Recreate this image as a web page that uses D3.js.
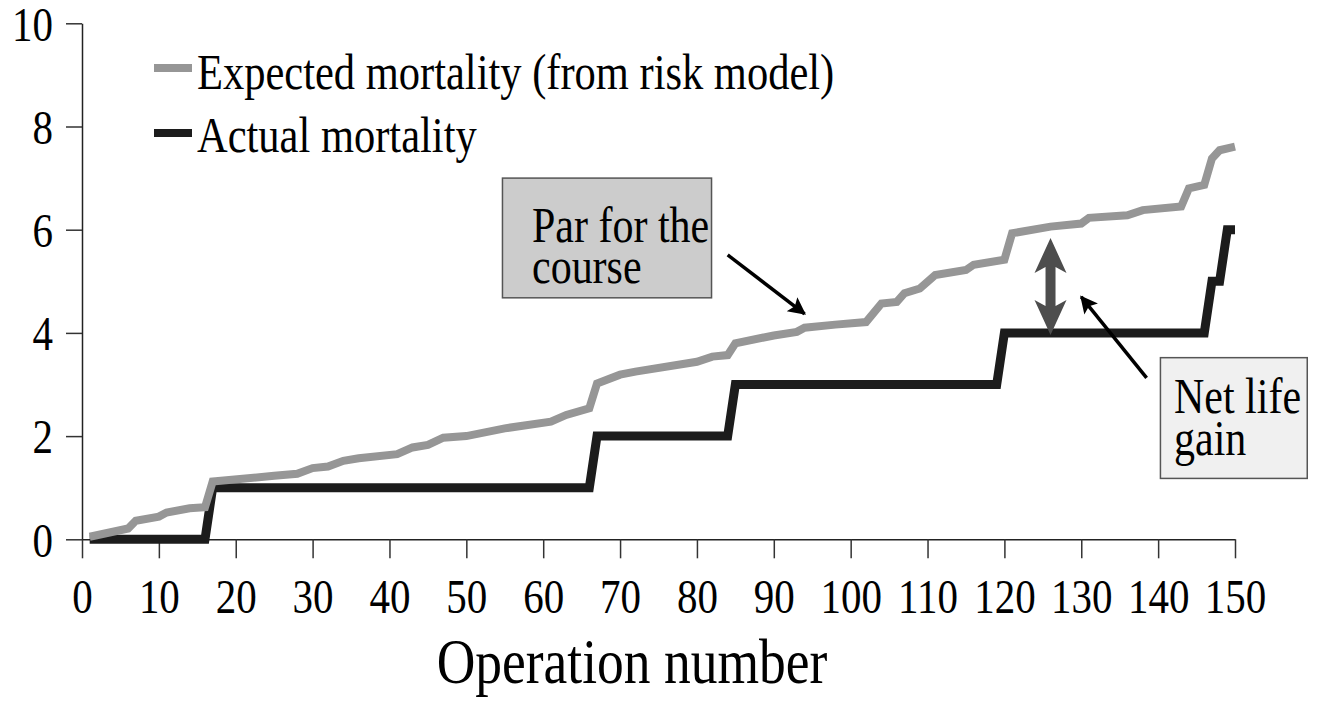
<!DOCTYPE html>
<html>
<head>
<meta charset="utf-8">
<script src="https://cdn.jsdelivr.net/npm/d3@7"></script>
<style>
  body { margin: 0; background: #fff; }
  text { font-family: "Liberation Serif", "Times New Roman", serif; fill: #000; }
</style>
</head>
<body>
<div id="chart"></div>
<script>
// expected mortality (cumulative, from risk model) - vertices
const expectedOps  = [1, 6, 7, 10, 11, 14, 16, 17, 25, 28, 30, 32, 34, 36, 41, 43, 45, 47, 50, 55, 61, 63, 66, 67, 70, 72, 80, 82, 84, 85, 90, 93, 94, 98, 102, 104, 106, 107, 109, 111, 115, 116, 120, 121, 126, 130, 131, 136, 138, 143, 144, 146, 147, 148, 150];
const expectedVals = [0.05, 0.21, 0.36, 0.44, 0.52, 0.60, 0.62, 1.12, 1.23, 1.27, 1.38, 1.41, 1.52, 1.57, 1.65, 1.78, 1.83, 1.97, 2.0, 2.15, 2.28, 2.41, 2.54, 3.02, 3.19, 3.25, 3.44, 3.54, 3.57, 3.80, 3.95, 4.02, 4.10, 4.16, 4.21, 4.57, 4.60, 4.77, 4.86, 5.12, 5.22, 5.32, 5.42, 5.93, 6.06, 6.12, 6.23, 6.28, 6.38, 6.45, 6.80, 6.87, 7.38, 7.54, 7.61];

// actual mortality (cumulative deaths)
const actualOps  = [1, 16, 17, 66, 67, 84, 85, 119, 120, 146, 147, 148, 149, 150];
const actualVals = [0, 0, 1, 1, 2, 2, 3, 3, 4, 4, 5, 5, 6, 6];

const xTickValues = [0, 10, 20, 30, 40, 50, 60, 70, 80, 90, 100, 110, 120, 130, 140, 150];
const yTickValues = [0, 2, 4, 6, 8, 10];

const seriesNames = ["Expected mortality (from risk model)", "Actual mortality"];

const W = 1324, H = 703;
const FONT = 41;
const SY = 1.2; // text in the original is taller than it is wide

const svg = d3.select("#chart").append("svg")
  .attr("width", W)
  .attr("height", H);

svg.append("rect").attr("width", W).attr("height", H).attr("fill", "#fff");

const x = d3.scaleLinear().domain([0, 150]).range([82, 1235]);
const y = d3.scaleLinear().domain([0, 10]).range([539.3, 23.3]);

// helper: put text at baseline (px,py) with vertical stretch
function label(g, px, py, txt, size, anchor = "start") {
  return g.append("text")
    .attr("transform", `translate(${px},${py}) scale(1,${SY})`)
    .attr("text-anchor", anchor)
    .style("font-size", size + "px")
    .text(txt);
}

// Axes
const xAxis = svg.append("g")
  .attr("transform", `translate(0,${y(0)})`)
  .call(d3.axisBottom(x).tickValues(xTickValues).tickSizeInner(19).tickSizeOuter(0));

xAxis.selectAll("text")
  .attr("y", null)
  .attr("dy", null)
  .attr("transform", `translate(0,74) scale(1,${SY})`)
  .style("font-size", FONT + "px")
  .attr("fill", "#000");

const yAxis = svg.append("g")
  .attr("transform", `translate(${x(0)},0)`)
  .call(d3.axisLeft(y).tickValues(yTickValues).tickSizeInner(16).tickSizeOuter(0));

yAxis.selectAll(".tick text")
  .attr("x", null)
  .attr("dy", null)
  .attr("transform", `translate(-29,${0.34 * FONT * SY}) scale(1,${SY})`)
  .style("font-size", FONT + "px")
  .attr("fill", "#000");

svg.selectAll(".domain, .tick line")
  .attr("stroke", "#222")
  .attr("stroke-width", 1.5);
svg.selectAll(".tick line").attr("stroke", "#333");

// Lines
const line = d3.line()
  .x(d => x(d[0]))
  .y(d => y(d[1]));

const expectedData = expectedOps.map((o, i) => [o, expectedVals[i]]);
const actualData = actualOps.map((o, i) => [o, actualVals[i]]);

svg.append("path")
  .datum(actualData)
  .attr("d", line)
  .attr("fill", "none")
  .attr("stroke", "#1c1c1c")
  .attr("stroke-width", 9);

svg.append("path")
  .datum(expectedData)
  .attr("d", line)
  .attr("fill", "none")
  .attr("stroke", "#969696")
  .attr("stroke-width", 8);

// Legend
const legend = svg.append("g");
[["#969696", 68], ["#1c1c1c", 133]].forEach((s, i) => {
  legend.append("line")
    .attr("x1", 154).attr("x2", 192)
    .attr("y1", s[1]).attr("y2", s[1])
    .attr("stroke", s[0])
    .attr("stroke-width", 8);
  label(legend, 197, i === 0 ? 89 : 152, seriesNames[i], 42.5);
});

// x axis title
label(svg, 632, 683, "Operation number", 53.5, "middle");

// arrow markers
const defs = svg.append("defs");
defs.append("marker")
  .attr("id", "arr")
  .attr("viewBox", "0 0 10 10")
  .attr("refX", 9).attr("refY", 5)
  .attr("markerWidth", 6).attr("markerHeight", 5)
  .attr("markerUnits", "strokeWidth")
  .attr("orient", "auto")
  .append("path")
  .attr("d", "M0,0L10,5L0,10L2,5Z")
  .attr("fill", "#000");

// "Par for the course" box
const box1 = svg.append("g");
box1.append("rect")
  .attr("x", x(54.7)).attr("y", y(7.0))
  .attr("width", x(81.9) - x(54.7)).attr("height", y(4.68) - y(7.0))
  .attr("fill", "#cccccc")
  .attr("stroke", "#555")
  .attr("stroke-width", 1.5);
label(box1, 532, 242, "Par for the", 42);
label(box1, 532, 283, "course", 42);

svg.append("line")
  .attr("x1", x(84)).attr("y1", y(5.51))
  .attr("x2", x(94)).attr("y2", y(4.37))
  .attr("stroke", "#000")
  .attr("stroke-width", 3.5)
  .attr("marker-end", "url(#arr)");

// "Net life gain" box
const box2 = svg.append("g");
box2.append("rect")
  .attr("x", x(140.3)).attr("y", y(3.52))
  .attr("width", x(159.4) - x(140.3)).attr("height", y(1.18) - y(3.52))
  .attr("fill", "#f0f0f0")
  .attr("stroke", "#555")
  .attr("stroke-width", 1.5);
label(box2, 1174, 413, "Net life", 42);
label(box2, 1174, 455, "gain", 42);

svg.append("line")
  .attr("x1", x(138.5)).attr("y1", y(3.13))
  .attr("x2", x(130)).attr("y2", y(4.70))
  .attr("stroke", "#000")
  .attr("stroke-width", 3.5)
  .attr("marker-end", "url(#arr)");

// double headed arrow between the two curves
const ax = x(126), arrTop = y(5.84), arrBot = y(3.96);
const hw = 16, hl = 35, sw = 5, notch = 6;
svg.append("path")
  .attr("d", [
    `M${ax},${arrTop}`,
    `L${ax + hw},${arrTop + hl}`,
    `L${ax + sw},${arrTop + hl - notch}`,
    `L${ax + sw},${arrBot - hl + notch}`,
    `L${ax + hw},${arrBot - hl}`,
    `L${ax},${arrBot}`,
    `L${ax - hw},${arrBot - hl}`,
    `L${ax - sw},${arrBot - hl + notch}`,
    `L${ax - sw},${arrTop + hl - notch}`,
    `L${ax - hw},${arrTop + hl}`,
    "Z"
  ].join(""))
  .attr("fill", "#4d4d4d");
</script>
</body>
</html>
